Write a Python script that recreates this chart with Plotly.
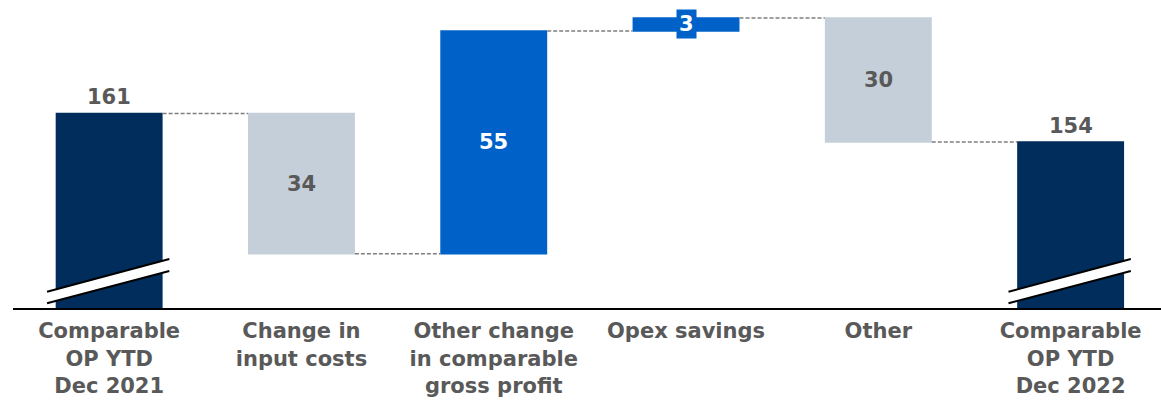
import plotly.graph_objects as go

categories = ["Comparable<br>OP YTD<br>Dec 2021", "Change in<br>input costs",
              "Other change<br>in comparable<br>gross profit", "Opex savings",
              "Other", "Comparable<br>OP YTD<br>Dec 2022"]
measures = ["absolute", "relative", "relative", "relative", "relative", "total"]
values = [161.4, -34.4, 54.6, 3.2, -30.4, 0]
labels = ["161", "34", "55", "3", "30", "154"]

NAVY = "#002D5B"
BLUE = "#0062C8"
GRAY = "#C5CFDA"
TXT = "#595959"
FONT = "DejaVu Sans"

YMIN, YMAX = 113.7, 189.2
BAR_W = 0.556

fig = go.Figure()
fig.add_trace(go.Waterfall(
    x=list(range(len(categories))), y=values, measure=measures,
    width=BAR_W,
    increasing=dict(marker=dict(color=BLUE, line=dict(width=0))),
    decreasing=dict(marker=dict(color=GRAY, line=dict(width=0))),
    totals=dict(marker=dict(color=NAVY, line=dict(width=0))),
    connector=dict(mode="between", line=dict(color="#7F7F7F", width=1.5, dash="4px,2px")),
    hoverinfo="skip", showlegend=False,
))

# compute bar extents
ends = []
starts = []
run = 0
for m, v in zip(measures, values):
    if m == "absolute":
        s, run = 0, v
    elif m == "total":
        s = 0
    else:
        s = run
        run = run + v
    starts.append(s)
    ends.append(run)

annotations = []
for i, m in enumerate(measures):
    if m in ("absolute", "total"):
        annotations.append(dict(x=i, y=ends[i], text=f"<b>{labels[i]}</b>", showarrow=False,
                                yanchor="bottom", yshift=2,
                                font=dict(family=FONT, size=21, color=TXT)))
    else:
        mid = (starts[i] + ends[i]) / 2
        inc = values[i] > 0
        small = abs(values[i]) < 6
        annotations.append(dict(x=i, y=mid, text=f"<b>{labels[i]}</b>", showarrow=False,
                                yanchor="middle",
                                bgcolor=BLUE if small else None, borderpad=2,
                                font=dict(family=FONT, size=21, color="white" if inc else TXT)))

# axis-break marks on total bars
shapes = []
ppu = 308 / (YMAX - YMIN)
for i, m in enumerate(measures):
    if m in ("absolute", "total"):
        xl, xr = i - 0.323, i + 0.313
        lo_l, lo_r = YMIN + 4.7 / ppu, YMIN + 37 / ppu
        up_l, up_r = YMIN + 16.3 / ppu, YMIN + 49 / ppu
        shapes.append(dict(type="path", xref="x", yref="y",
                           path=f"M {xl} {lo_l} L {xr} {lo_r} L {xr} {up_r} L {xl} {up_l} Z",
                           fillcolor="white", line=dict(width=0)))
        shapes.append(dict(type="line", xref="x", yref="y", x0=xl, y0=lo_l, x1=xr, y1=lo_r,
                           line=dict(color="black", width=2)))
        shapes.append(dict(type="line", xref="x", yref="y", x0=xl, y0=up_l, x1=xr, y1=up_r,
                           line=dict(color="black", width=2)))

fig.update_layout(
    width=1161, height=401,
    margin=dict(l=13, r=0, t=0, b=93),
    plot_bgcolor="white", paper_bgcolor="white",
    annotations=annotations, shapes=shapes,
    xaxis=dict(range=[-0.5, 5.47], tickmode="array", tickvals=list(range(len(categories))),
               ticktext=[f"<b>{c}</b>" for c in categories],
               tickfont=dict(family=FONT, size=21, color=TXT),
               showline=True, linecolor="black", linewidth=2,
               ticks="outside", ticklen=3, tickcolor="white",
               showgrid=False, zeroline=False, fixedrange=True),
    yaxis=dict(range=[YMIN, YMAX], visible=False, showgrid=False, zeroline=False),
)

fig.write_html("out.html")
